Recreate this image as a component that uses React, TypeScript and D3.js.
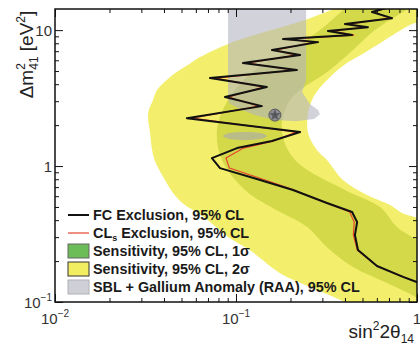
import React, { useEffect, useRef } from "react";
import * as d3 from "d3";

const W = 420;
const H = 355;
const margin = { top: 9, right: 3, bottom: 53, left: 55 };

const xDomain = [0.01, 1];
const yDomain = [0.1, 14.3];

// sensitivity 2 sigma band: for each dm2 row, left and right sin2 edge
const sens2Dm2 = [15, 11.85, 11.07, 8.02, 6.33, 5.72, 4.51, 3.62, 3.06, 2.45, 1.75, 1.31, 1.107, 0.789, 0.612, 0.516, 0.451, 0.387, 0.301, 0.241, 0.163, 0.129, 0.1, 0.09];
const sens2Lo = [0.38, 0.24, 0.204, 0.0927, 0.0633, 0.0563, 0.0431, 0.0366, 0.0348, 0.0327, 0.0335, 0.0344, 0.0355, 0.0405, 0.0458, 0.0522, 0.0617, 0.0718, 0.0904, 0.119, 0.175, 0.256, 0.4, 0.46];
const sens2Hi = [1.1, 1.1, 0.937, 0.625, 0.467, 0.41, 0.33, 0.284, 0.263, 0.25, 0.25, 0.28, 0.318, 0.39, 0.53, 0.71, 0.826, 1.1, 1.1, 1.1, 1.1, 1.1, 1.1, 1.1];

// sensitivity 1 sigma band
const sens1Dm2 = [15, 10, 7.13, 5.08, 3.06, 1.84, 1.107, 0.667, 0.499, 0.356, 0.253, 0.181, 0.138, 0.107, 0.095];
const sens1Lo = [0.41, 0.291, 0.199, 0.127, 0.0904, 0.0785, 0.0837, 0.112, 0.156, 0.247, 0.318, 0.443, 0.683, 1.0, 1.1];
const sens1Hi = [0.95, 0.586, 0.443, 0.33, 0.199, 0.179, 0.212, 0.4, 0.625, 0.775, 1.1, 1.1, 1.1, 1.1, 1.1];

// SBL + Gallium anomaly allowed regions
const raaMainSin2 = [0.0904, 0.244, 0.244, 0.232, 0.256, 0.284, 0.291, 0.27, 0.2146, 0.166, 0.132, 0.108, 0.0927, 0.0904];
const raaMainDm2 = [17, 17, 4.29, 3.5, 2.86, 2.58, 2.41, 2.22, 2.14, 2.18, 2.33, 2.58, 2.86, 3.06];
const raaIslandSin2 = [0.0847, 0.0927, 0.112, 0.136, 0.148, 0.136, 0.112, 0.0927];
const raaIslandDm2 = [1.662, 1.75, 1.778, 1.75, 1.662, 1.579, 1.55, 1.579];
const bestFit = { sin2: 0.164, dm2: 2.37 };

// exclusion contours
const fcSin2 = [0.806, 0.564, 0.728, 0.4, 0.536, 0.322, 0.438, 0.182, 0.284, 0.158, 0.226, 0.1093, 0.217, 0.0718, 0.148, 0.0869, 0.139, 0.0535, 0.226, 0.158, 0.1013, 0.0736, 0.0816, 0.136, 0.2065, 0.318, 0.438, 0.467, 0.454, 0.472, 0.601, 0.837, 1.107];
const fcDm2 = [15.5, 13.6, 12.25, 11.07, 10.5, 9.84, 9.19, 8.59, 8.16, 7.13, 6.55, 5.72, 5.08, 4.44, 3.81, 3.22, 2.76, 2.25, 1.778, 1.527, 1.356, 1.145, 0.966, 0.789, 0.667, 0.535, 0.459, 0.387, 0.311, 0.241, 0.184, 0.153, 0.133];
const clsSin2 = [0.78, 0.58, 0.7, 0.42, 0.52, 0.34, 0.45, 0.19, 0.27, 0.165, 0.215, 0.115, 0.21, 0.077, 0.142, 0.091, 0.134, 0.057, 0.215, 0.16, 0.11, 0.088, 0.092, 0.145, 0.21, 0.315, 0.425, 0.45, 0.445, 0.468, 0.6, 0.84, 1.107];
const clsDm2 = fcDm2;

const xMajor = [0.01, 0.1, 1];
const yMajor = [0.1, 1, 10];
const xTickLabels = [["10", "\u22122"], ["10", "\u22121"], ["1", ""]];
const yTickLabels = [["10", "\u22121"], ["1", ""], ["10", ""]];

const legendItems = [
  { kind: "line", color: "#111", width: 2, label: "FC Exclusion, 95% CL" },
  { kind: "line", color: "#e8452c", width: 1.2, label: "CLs Exclusion, 95% CL" },
  { kind: "box", color: "#6cbd58", stroke: "#666", label: "Sensitivity, 95% CL, 1\u03c3" },
  { kind: "box", color: "#f2ee62", stroke: "#333", label: "Sensitivity, 95% CL, 2\u03c3" },
  { kind: "box", color: "#cfcfd6", stroke: "#b0b0b8", label: "SBL + Gallium Anomaly (RAA), 95% CL" },
];

const FONT = "'Liberation Sans', Arial, sans-serif";

export default function App() {
  const svgRef = useRef<SVGSVGElement>(null);

  useEffect(() => {
    const svg = d3.select(svgRef.current);
    svg.selectAll("*").remove();

    const x0 = margin.left;
    const x1 = W - margin.right;
    const y0 = H - margin.bottom;
    const y1 = margin.top;

    const x = d3.scaleLog().domain(xDomain).range([x0, x1]);
    const y = d3.scaleLog().domain(yDomain).range([y0, y1]);

    svg.append("defs").append("clipPath").attr("id", "plot-clip")
      .append("rect").attr("x", x0).attr("y", y1).attr("width", x1 - x0).attr("height", y0 - y1);

    const plot = svg.append("g").attr("clip-path", "url(#plot-clip)");

    const band = d3.area<any>()
      .y((d) => y(d.dm2))
      .x0((d) => x(d.lo))
      .x1((d) => x(d.hi))
      .curve(d3.curveCatmullRom);

    const band2 = sens2Dm2.map((d, i) => ({ dm2: d, lo: sens2Lo[i], hi: sens2Hi[i] }));
    const band1 = sens1Dm2.map((d, i) => ({ dm2: d, lo: sens1Lo[i], hi: sens1Hi[i] }));

    plot.append("path").attr("d", band(band2)).attr("fill", "#f3ef6c");
    plot.append("path").attr("d", band(band1)).attr("fill", "#d3d948");

    const poly = d3.line<[number, number]>().x((d) => x(d[0])).y((d) => y(d[1]));
    const raaMain = raaMainSin2.map((s, i) => [s, raaMainDm2[i]] as [number, number]);
    const raaIsland = raaIslandSin2.map((s, i) => [s, raaIslandDm2[i]] as [number, number]);

    plot.append("path").attr("d", poly.curve(d3.curveLinearClosed)(raaMain))
      .attr("fill", "#b4b4c2").attr("opacity", 0.6);
    plot.append("path").attr("d", poly.curve(d3.curveCardinalClosed)(raaIsland))
      .attr("fill", "#a8a8b4").attr("opacity", 0.6);

    const bx = x(bestFit.sin2);
    const by = y(bestFit.dm2);
    plot.append("circle").attr("cx", bx).attr("cy", by).attr("r", 6)
      .attr("fill", "#8c8c90").attr("stroke", "#5a5a5e").attr("stroke-width", 1);
    plot.append("path").attr("d", d3.symbol(d3.symbolStar, 40)())
      .attr("transform", `translate(${bx},${by})`).attr("fill", "#55575c");

    const contour = d3.line<[number, number]>().x((d) => x(d[0])).y((d) => y(d[1]));
    plot.append("path")
      .attr("d", contour(clsSin2.map((s, i) => [s, clsDm2[i]] as [number, number])))
      .attr("fill", "none").attr("stroke", "#e8452c").attr("stroke-width", 1.2);
    plot.append("path")
      .attr("d", contour(fcSin2.map((s, i) => [s, fcDm2[i]] as [number, number])))
      .attr("fill", "none").attr("stroke", "#111").attr("stroke-width", 2).attr("stroke-linejoin", "round");

    // ticks on all four sides, pointing inward
    const xMinor = x.ticks().filter((t) => !xMajor.includes(t));
    const yMinor = y.ticks().filter((t) => !yMajor.includes(t) && t < yDomain[1]);

    const tickAxis = (gen: any, tr: string) => {
      const g = svg.append("g").attr("transform", tr).call(gen);
      g.select(".domain").remove();
      g.selectAll("text").remove();
      g.selectAll("line").attr("stroke", "#111");
    };
    tickAxis(d3.axisBottom(x).tickValues(xMajor).tickSize(-8), `translate(0,${y0})`);
    tickAxis(d3.axisBottom(x).tickValues(xMinor).tickSize(-4), `translate(0,${y0})`);
    tickAxis(d3.axisTop(x).tickValues(xMajor).tickSize(-8), `translate(0,${y1})`);
    tickAxis(d3.axisTop(x).tickValues(xMinor).tickSize(-4), `translate(0,${y1})`);
    tickAxis(d3.axisLeft(y).tickValues(yMajor).tickSize(-8), `translate(${x0},0)`);
    tickAxis(d3.axisLeft(y).tickValues(yMinor).tickSize(-4), `translate(${x0},0)`);
    tickAxis(d3.axisRight(y).tickValues(yMajor).tickSize(-8), `translate(${x1},0)`);
    tickAxis(d3.axisRight(y).tickValues(yMinor).tickSize(-4), `translate(${x1},0)`);

    svg.append("rect").attr("x", x0).attr("y", y1).attr("width", x1 - x0).attr("height", y0 - y1)
      .attr("fill", "none").attr("stroke", "#111").attr("stroke-width", 1.5);

    // tick labels
    const tickText = (px: number, py: number, anchor: string, base: string, exp: string) => {
      const t = svg.append("text").attr("x", px).attr("y", py).attr("text-anchor", anchor)
        .attr("font-family", FONT).attr("font-size", 15).attr("fill", "#333");
      t.append("tspan").text(base);
      if (exp) t.append("tspan").attr("font-size", 10).attr("dy", -7).text(exp);
    };
    xMajor.forEach((v, i) => tickText(x(v), y0 + 22, "middle", xTickLabels[i][0], xTickLabels[i][1]));
    yMajor.forEach((v, i) => tickText(x0 - 3, y(v) + 6, "end", yTickLabels[i][0], yTickLabels[i][1]));

    // axis titles
    const yt = svg.append("text").attr("transform", `translate(33,${(y1 + 100) / 2}) rotate(-90)`)
      .attr("text-anchor", "middle").attr("font-family", FONT).attr("font-size", 19).attr("fill", "#222");
    yt.append("tspan").text("\u0394m");
    yt.append("tspan").attr("font-size", 12).attr("dy", -8).text("2");
    yt.append("tspan").attr("font-size", 12).attr("dx", -6.7).attr("dy", 13).text("41");
    yt.append("tspan").attr("dy", -5).text(" [eV");
    yt.append("tspan").attr("font-size", 12).attr("dy", -8).text("2");
    yt.append("tspan").attr("dy", 8).text("]");

    const xt = svg.append("text").attr("x", 414).attr("y", 338).attr("text-anchor", "end")
      .attr("font-family", FONT).attr("font-size", 19).attr("fill", "#222");
    xt.append("tspan").text("sin");
    xt.append("tspan").attr("font-size", 12).attr("dy", -8).text("2");
    xt.append("tspan").attr("dy", 8).text("2\u03b8");
    xt.append("tspan").attr("font-size", 12).attr("dy", 5).text("14");

    // legend
    const lg = svg.append("g").attr("transform", "translate(68,215)");
    legendItems.forEach((it, i) => {
      const row = lg.append("g").attr("transform", `translate(0,${i * 18})`);
      if (it.kind === "line") {
        row.append("line").attr("x1", 0).attr("x2", 21).attr("y1", 0).attr("y2", 0)
          .attr("stroke", it.color).attr("stroke-width", it.width);
      } else {
        row.append("rect").attr("x", 0).attr("y", -7).attr("width", 21).attr("height", 14)
          .attr("fill", it.color).attr("stroke", (it as any).stroke).attr("stroke-width", 1);
      }
      const t = row.append("text").attr("x", 25).attr("y", 0).attr("dy", "0.36em")
        .attr("font-family", FONT).attr("font-size", 14.4).attr("font-weight", "bold").attr("fill", "#1a1a1a");
      if (it.label.startsWith("CLs")) {
        t.append("tspan").text("CL");
        t.append("tspan").attr("font-size", 9).attr("dy", 3).text("s");
        t.append("tspan").attr("dy", -3).text(it.label.slice(3));
      } else {
        t.text(it.label);
      }
    });
  }, []);

  return (
    <svg
      ref={svgRef}
      width={W}
      height={H}
      style={{ position: "absolute", left: 0, top: 0, background: "#fff" }}
    />
  );
}
